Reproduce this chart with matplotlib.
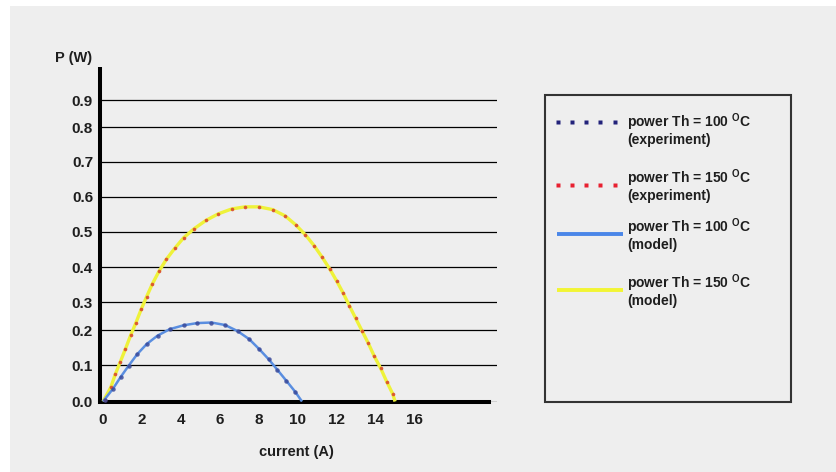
import numpy as np
import matplotlib
matplotlib.use("Agg")
import matplotlib.pyplot as plt
from matplotlib.lines import Line2D
from matplotlib.patches import Rectangle

# ---------------- data ----------------
x_ticks = [0, 2, 4, 6, 8, 10, 12, 14, 16]
y_ticks = [0.0, 0.1, 0.2, 0.3, 0.4, 0.5, 0.6, 0.7, 0.8, 0.9]
y_tick_labels = ["0.0", "0.1", "0.2", "0.3", "0.4", "0.5", "0.6", "0.7", "0.8", "0.9"]

# experiment, Th = 100 C
exp100_i = [0.12, 0.51, 0.91, 1.32, 1.75, 2.24, 2.80, 3.43, 4.14, 4.84,
            5.57, 6.27, 6.91, 7.51, 8.02, 8.51, 8.95, 9.42, 9.87]
exp100_p = [0.004, 0.035, 0.068, 0.099, 0.131, 0.160, 0.184, 0.203, 0.217, 0.225,
            0.227, 0.218, 0.197, 0.174, 0.146, 0.117, 0.088, 0.057, 0.027]

# experiment, Th = 150 C
exp150_i = [0.12, 0.40, 0.63, 0.89, 1.15, 1.42, 1.69, 1.97, 2.24, 2.53,
            2.88, 3.25, 3.68, 4.14, 4.69, 5.28, 5.92, 6.61, 7.29, 8.01,
            8.72, 9.36, 9.91, 10.40, 10.84, 11.26, 11.66, 12.00, 12.34, 12.65,
            12.98, 13.30, 13.63, 13.93, 14.26, 14.57, 14.88]
exp150_p = [0.004, 0.039, 0.075, 0.110, 0.146, 0.185, 0.226, 0.276, 0.316, 0.352,
            0.389, 0.422, 0.453, 0.483, 0.509, 0.532, 0.551, 0.565, 0.571, 0.571,
            0.563, 0.545, 0.519, 0.491, 0.461, 0.428, 0.394, 0.361, 0.326, 0.288,
            0.242, 0.198, 0.162, 0.126, 0.092, 0.055, 0.021]

# model, Th = 100 C
mod100_i = [0.0, 0.51, 0.91, 1.32, 1.75, 2.24, 2.80, 3.43, 4.14, 4.84,
            5.57, 6.27, 6.91, 7.51, 8.02, 8.51, 8.95, 9.42, 9.87, 10.22]
mod100_p = [0.0, 0.035, 0.068, 0.099, 0.131, 0.160, 0.184, 0.203, 0.217, 0.225,
            0.227, 0.218, 0.197, 0.174, 0.146, 0.117, 0.088, 0.057, 0.027, 0.0]

# model, Th = 150 C
mod150_i = [0.0, 0.40, 0.63, 0.89, 1.15, 1.42, 1.69, 1.97, 2.24, 2.53,
            2.88, 3.25, 3.68, 4.14, 4.69, 5.28, 5.92, 6.61, 7.29, 8.01,
            8.72, 9.36, 9.91, 10.40, 10.84, 11.26, 11.66, 12.00, 12.34, 12.65,
            12.98, 13.30, 13.63, 13.93, 14.26, 14.57, 14.88, 15.0]
mod150_p = [0.0, 0.039, 0.075, 0.110, 0.146, 0.185, 0.226, 0.276, 0.316, 0.352,
            0.389, 0.422, 0.453, 0.483, 0.509, 0.532, 0.551, 0.565, 0.571, 0.571,
            0.563, 0.545, 0.519, 0.491, 0.461, 0.428, 0.394, 0.361, 0.326, 0.288,
            0.242, 0.198, 0.162, 0.126, 0.092, 0.055, 0.021, 0.0]

legend_labels = [
    "power Th = 100 $^{\\mathrm{O}}$C\n(experiment)",
    "power Th = 150 $^{\\mathrm{O}}$C\n(experiment)",
    "power Th = 100 $^{\\mathrm{O}}$C\n(model)",
    "power Th = 150 $^{\\mathrm{O}}$C\n(model)",
]
x_label = "current (A)"
y_label = "P (W)"

# ---------------- style ----------------
plt.rcParams['font.family'] = ['Liberation Sans', 'DejaVu Sans']
plt.rcParams['font.weight'] = 'bold'
plt.rcParams['mathtext.fontset'] = 'custom'
plt.rcParams['mathtext.rm'] = 'Liberation Sans:bold'
plt.rcParams['mathtext.bf'] = 'Liberation Sans:bold'
plt.rcParams['mathtext.it'] = 'Liberation Sans:bold'

BG = '#eeeeee'
TXT = '#1e1e1e'
BLUE = '#5a8ee0'
YELLOW = '#eef23a'
RED = '#d8402a'
NAVY = '#3a4a9a'

W, H = 836, 472
fig = plt.figure(figsize=(W / 100, H / 100), dpi=100)
fig.patch.set_facecolor('white')


def fx(px):
    return px / W


def fy(py):
    return 1 - py / H


# gray slide background
fig.patches.append(Rectangle((fx(10), 0), 1 - fx(10), fy(6), transform=fig.transFigure,
                             facecolor=BG, edgecolor='none', zorder=-10))

# axes placement
ax_left, ax_right, ax_top, ax_bot = 100, 497, 67, 401.5
ax = fig.add_axes([fx(ax_left), fy(ax_bot), fx(ax_right - ax_left), (ax_bot - ax_top) / H])
ax.set_facecolor('none')

# non-uniform vertical scale as in the original slide
knot_vals = np.array([0.0, 0.1, 0.2, 0.3, 0.4, 0.5, 0.6, 0.7, 0.8, 0.9, 1.0])
knot_pos = np.array([0.0, 36.2, 71.5, 99.2, 134.2, 169.8, 204.8, 239.8, 274.2, 301.5, 334.5])


def _pw(v, xs, ys):
    v = np.asarray(v, dtype=float)
    out = np.interp(v, xs, ys)
    lo = v < xs[0]
    hi = v > xs[-1]
    s0 = (ys[1] - ys[0]) / (xs[1] - xs[0])
    s1 = (ys[-1] - ys[-2]) / (xs[-1] - xs[-2])
    out = np.where(lo, ys[0] + (v - xs[0]) * s0, out)
    out = np.where(hi, ys[-1] + (v - xs[-1]) * s1, out)
    return out


ax.set_yscale('function', functions=(lambda v: _pw(v, knot_vals, knot_pos),
                                     lambda p: _pw(p, knot_pos, knot_vals)))

# linear horizontal scale
x0px, px_per_A = 103.0, 19.47
ax.set_xlim((ax_left - x0px) / px_per_A, (ax_right - x0px) / px_per_A)
ax.set_ylim(0.0, 1.0)

# curves
ax.plot(mod150_i, mod150_p, color=YELLOW, lw=2.4, solid_capstyle='butt', zorder=3)
ax.plot(mod100_i, mod100_p, color=BLUE, lw=1.8, solid_capstyle='butt', zorder=4)
ax.plot(exp150_i, exp150_p, ls='none', marker='o', ms=2.6, mfc=RED, mec='none',
        alpha=0.85, zorder=5)
ax.plot(exp100_i, exp100_p, ls='none', marker='o', ms=3.2, mfc=NAVY, mec='none',
        alpha=0.85, zorder=6)

# grid & axes
ax.set_yticks(y_ticks)
ax.set_yticklabels(y_tick_labels)
ax.set_xticks(x_ticks)
ax.set_xticklabels([str(t) for t in x_ticks])
ax.yaxis.grid(True, color='black', lw=0.9)
ax.xaxis.grid(False)
ax.set_axisbelow(True)
ax.tick_params(axis='both', length=0, labelsize=11, labelcolor=TXT)
ax.tick_params(axis='y', pad=5)
ax.tick_params(axis='x', pad=8)
for t in ax.get_xticklabels() + ax.get_yticklabels():
    t.set_fontweight('bold')

for s in ('top', 'right'):
    ax.spines[s].set_visible(False)
for s in ('left', 'bottom'):
    ax.spines[s].set_linewidth(2.9)
    ax.spines[s].set_color('black')
ax.spines['bottom'].set_bounds(ax.get_xlim()[0], (489 - x0px) / px_per_A)
ax.spines['left'].set_capstyle('butt')

# axis labels
fig.text(fx(55), fy(58), y_label, fontsize=10.5, fontweight='bold', color=TXT,
         ha='left', va='center')
fig.text(fx(296), fy(452), x_label, fontsize=10.5, fontweight='bold', color=TXT,
         ha='center', va='center')

# legend box
fig.patches.append(Rectangle((fx(544.5), fy(401.5)), fx(791 - 544.5), (401.5 - 95) / H,
                             transform=fig.transFigure, facecolor='none',
                             edgecolor='#333333', lw=1.5, zorder=5))
handle_y = [122.3, 185, 234, 290]
text_y = [129, 185, 234.5, 290.5]
hx0, hx1 = 556.5, 622.5
dots_x = np.linspace(557.5, 614.5, 5)
styles = ['dots_navy', 'dots_red', 'line_blue', 'line_yellow']
for lab, hy, ty, st in zip(legend_labels, handle_y, text_y, styles):
    if st.startswith('dots'):
        c = '#22227a' if st == 'dots_navy' else '#e82030'
        fig.lines.append(Line2D(fx(dots_x), [fy(hy)] * len(dots_x), ls='none', marker='s',
                                ms=2.3, mfc=c, mec='none', transform=fig.transFigure))
    else:
        c = '#4a86e8' if st == 'line_blue' else '#f2f533'
        fig.lines.append(Line2D([fx(hx0), fx(hx1)], [fy(hy), fy(hy)], color=c, lw=2.8,
                                transform=fig.transFigure, solid_capstyle='butt'))
    fig.text(fx(627), fy(ty), lab, fontsize=10, fontweight='bold', color=TXT,
             ha='left', va='center', linespacing=1.0)

fig.savefig('out.png', dpi=100, facecolor=fig.get_facecolor())
